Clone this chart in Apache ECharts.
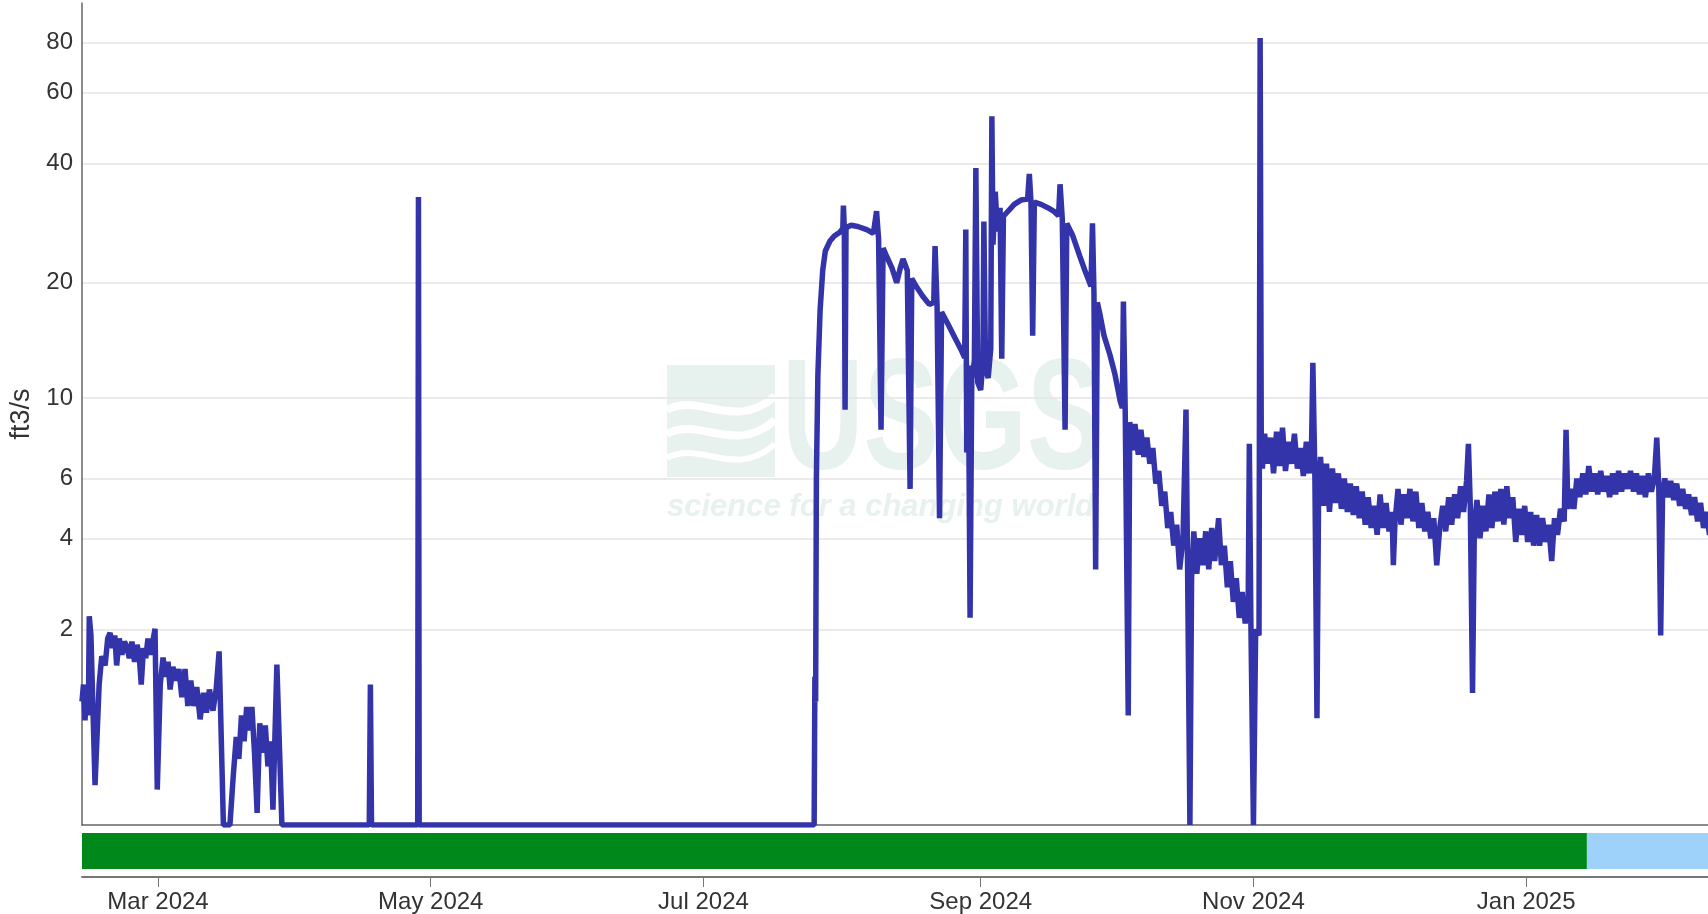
<!DOCTYPE html>
<html>
<head>
<meta charset="utf-8">
<title>Discharge, ft3/s</title>
<script src="https://cdn.jsdelivr.net/npm/echarts@6/dist/echarts.min.js"></script>
<style>
    html, body { margin: 0; padding: 0; background: #fff; }
    #chart { width: 1708px; height: 914px; }
</style>
</head>
<body>
<div id="chart"></div>
<script>
// discharge readings, ft3/s   [time, value]
var winterFlow = [
    ['2024-02-13 00:00', 1.0], ['2024-02-13 08:00', 1.2], ['2024-02-13 16:00', 0.8], ['2024-02-14 02:00', 1.1],
    ['2024-02-14 10:00', 0.85], ['2024-02-14 15:00', 2.23], ['2024-02-15 00:00', 1.9], ['2024-02-15 22:00', 0.25],
    ['2024-02-16 20:00', 1.2], ['2024-02-17 10:00', 1.58], ['2024-02-18 04:00', 1.45], ['2024-02-18 18:00', 1.85],
    ['2024-02-19 07:00', 1.94], ['2024-02-19 20:00', 1.7], ['2024-02-20 08:00', 1.9], ['2024-02-20 18:00', 1.45],
    ['2024-02-21 08:00', 1.85], ['2024-02-21 22:00', 1.6], ['2024-02-22 12:00', 1.8], ['2024-02-23 00:00', 1.73],
    ['2024-02-23 14:00', 1.55], ['2024-02-24 04:00', 1.8], ['2024-02-24 18:00', 1.5], ['2024-02-25 08:00', 1.75],
    ['2024-02-25 20:00', 1.55], ['2024-02-26 06:00', 1.2], ['2024-02-26 18:00', 1.7], ['2024-02-27 06:00', 1.55],
    ['2024-02-27 18:00', 1.85], ['2024-02-28 08:00', 1.6], ['2024-02-28 20:00', 1.8], ['2024-02-29 08:00', 2.01],
    ['2024-02-29 20:00', 0.22], ['2024-03-01 12:00', 1.2], ['2024-03-02 03:00', 1.56], ['2024-03-02 16:00', 1.3],
    ['2024-03-03 06:00', 1.5], ['2024-03-03 17:00', 1.14], ['2024-03-04 08:00', 1.43], ['2024-03-05 00:00', 1.25],
    ['2024-03-05 16:00', 1.4], ['2024-03-06 08:00', 1.05], ['2024-03-07 01:00', 1.4], ['2024-03-07 16:00', 0.95],
    ['2024-03-08 08:00', 1.25], ['2024-03-09 00:00', 0.95], ['2024-03-09 16:00', 1.17], ['2024-03-10 10:00', 0.81],
    ['2024-03-11 04:00', 1.1], ['2024-03-11 20:00', 0.88], ['2024-03-12 12:00', 1.14], ['2024-03-13 07:00', 0.9],
    ['2024-03-14 00:00', 1.14], ['2024-03-14 16:00', 1.65], ['2024-03-15 15:00', 0], ['2024-03-17 02:00', 0],
    ['2024-03-17 19:00', 0.3], ['2024-03-18 12:00', 0.64], ['2024-03-19 02:00', 0.45], ['2024-03-19 16:00', 0.85],
    ['2024-03-20 06:00', 0.6], ['2024-03-20 20:00', 0.94], ['2024-03-21 10:00', 0.7], ['2024-03-22 00:00', 0.94],
    ['2024-03-22 14:00', 0.5], ['2024-03-23 04:00', 0.07], ['2024-03-23 18:00', 0.77], ['2024-03-24 10:00', 0.5],
    ['2024-03-25 00:00', 0.75], ['2024-03-25 14:00', 0.39], ['2024-03-26 04:00', 0.6], ['2024-03-26 17:00', 0.09],
    ['2024-03-27 14:00', 1.46], ['2024-03-28 17:00', 0]
];

var dryFlow = [
    ['2024-04-17 06:00', 0], ['2024-04-17 12:00', 1.2], ['2024-04-17 18:00', 0],
    ['2024-04-28 02:00', 0], ['2024-04-28 06:00', 33], ['2024-04-28 10:00', 0],
    ['2024-07-25 18:00', 0]
];

var summerFlow = [
    ['2024-07-25 22:00', 1.3], ['2024-07-26 02:00', 1.0], ['2024-07-26 06:00', 6], ['2024-07-26 14:00', 11.5],
    ['2024-07-27 02:00', 17], ['2024-07-27 16:00', 21.5], ['2024-07-28 06:00', 24.1], ['2024-07-29 06:00', 25.5],
    ['2024-07-30 06:00', 26.3], ['2024-07-31 12:00', 26.9], ['2024-08-01 04:00', 27.5], ['2024-08-01 07:00', 31.4],
    ['2024-08-01 12:00', 27.5], ['2024-08-01 16:00', 9.3], ['2024-08-01 21:00', 27.6], ['2024-08-03 00:00', 28],
    ['2024-08-04 12:00', 27.8], ['2024-08-06 12:00', 27.3], ['2024-08-08 00:00', 26.7], ['2024-08-08 17:00', 30.4],
    ['2024-08-09 04:00', 25.8], ['2024-08-09 17:00', 8.2], ['2024-08-10 04:00', 24.5], ['2024-08-11 00:00', 23.3],
    ['2024-08-12 04:00', 21.8], ['2024-08-13 05:00', 20], ['2024-08-14 00:00', 21.8], ['2024-08-14 15:00', 23],
    ['2024-08-15 14:00', 21.5], ['2024-08-16 05:00', 5.6], ['2024-08-16 14:00', 20.5], ['2024-08-17 16:00', 19.5],
    ['2024-08-19 00:00', 18.5], ['2024-08-20 12:00', 17.6], ['2024-08-21 12:00', 17.8], ['2024-08-21 19:00', 24.8],
    ['2024-08-22 06:00', 17.3], ['2024-08-22 19:00', 4.6], ['2024-08-23 06:00', 16.8], ['2024-08-24 12:00', 15.8],
    ['2024-08-26 00:00', 14.6], ['2024-08-27 12:00', 13.5], ['2024-08-28 10:00', 12.8], ['2024-08-28 16:00', 27.3],
    ['2024-08-28 21:00', 7.1], ['2024-08-29 06:00', 12.2], ['2024-08-29 15:00', 2.2], ['2024-08-30 00:00', 11.2],
    ['2024-08-30 14:00', 12.5], ['2024-08-30 22:00', 39], ['2024-08-31 08:00', 11], ['2024-09-01 00:00', 10.5],
    ['2024-09-01 12:00', 12.5], ['2024-09-01 17:00', 28.6], ['2024-09-02 02:00', 12], ['2024-09-02 16:00', 11.3],
    ['2024-09-03 06:00', 13.5], ['2024-09-03 12:00', 52.5], ['2024-09-03 18:00', 25], ['2024-09-04 06:00', 34],
    ['2024-09-04 18:00', 27], ['2024-09-05 08:00', 31], ['2024-09-05 17:00', 12.7], ['2024-09-06 02:00', 29.5],
    ['2024-09-07 06:00', 30.5], ['2024-09-08 12:00', 31.6], ['2024-09-10 00:00', 32.4], ['2024-09-11 12:00', 32.6],
    ['2024-09-11 21:00', 37.7], ['2024-09-12 06:00', 32], ['2024-09-12 15:00', 14.6], ['2024-09-13 00:00', 32],
    ['2024-09-14 12:00', 31.6], ['2024-09-16 00:00', 31], ['2024-09-17 07:00', 30.4], ['2024-09-18 10:00', 29.6],
    ['2024-09-18 18:00', 35.5], ['2024-09-19 06:00', 29], ['2024-09-19 21:00', 8.2], ['2024-09-20 06:00', 28.3],
    ['2024-09-21 12:00', 26.5], ['2024-09-23 05:00', 23.3], ['2024-09-24 12:00', 21.2], ['2024-09-25 16:00', 19.6],
    ['2024-09-26 00:00', 28.3], ['2024-09-26 08:00', 18.8], ['2024-09-26 17:00', 3.2], ['2024-09-27 02:00', 17.8],
    ['2024-09-27 17:00', 16.5], ['2024-09-28 14:00', 14.6], ['2024-09-29 22:00', 13], ['2024-10-01 00:00', 11.6],
    ['2024-10-02 05:00', 9.8], ['2024-10-02 16:00', 9.4], ['2024-10-02 22:00', 17.9], ['2024-10-03 08:00', 9],
    ['2024-10-04 00:00', 0.85], ['2024-10-04 08:00', 8.6]
];

var fallFlow = [
    ['2024-10-05 00:00', 7.2], ['2024-10-05 12:00', 8.5], ['2024-10-06 06:00', 7], ['2024-10-06 20:00', 8.2],
    ['2024-10-07 12:00', 6.9], ['2024-10-08 04:00', 7.8], ['2024-10-08 20:00', 6.6], ['2024-10-09 12:00', 7.3],
    ['2024-10-10 04:00', 5.8], ['2024-10-10 20:00', 6.3], ['2024-10-11 12:00', 5.0], ['2024-10-12 04:00', 5.5],
    ['2024-10-12 20:00', 4.3], ['2024-10-13 12:00', 4.8], ['2024-10-14 04:00', 3.8], ['2024-10-14 20:00', 4.4],
    ['2024-10-15 12:00', 3.2], ['2024-10-16 06:00', 4.0], ['2024-10-16 22:00', 9.3], ['2024-10-17 06:00', 3.5],
    ['2024-10-17 19:00', 0], ['2024-10-18 04:00', 3.0], ['2024-10-18 16:00', 4.2], ['2024-10-19 08:00', 3.1],
    ['2024-10-20 00:00', 4.0], ['2024-10-20 16:00', 3.3], ['2024-10-21 08:00', 4.2], ['2024-10-22 00:00', 3.2],
    ['2024-10-22 16:00', 4.3], ['2024-10-23 08:00', 3.4], ['2024-10-24 05:00', 4.6], ['2024-10-24 20:00', 3.3],
    ['2024-10-25 12:00', 3.8], ['2024-10-26 04:00', 2.8], ['2024-10-26 20:00', 3.4], ['2024-10-27 12:00', 2.5],
    ['2024-10-28 04:00', 3.0], ['2024-10-28 20:00', 2.2], ['2024-10-29 12:00', 2.7], ['2024-10-30 04:00', 2.1],
    ['2024-10-30 20:00', 2.5], ['2024-10-31 02:00', 7.5], ['2024-10-31 10:00', 2.2], ['2024-11-01 00:00', 0],
    ['2024-11-01 12:00', 2.0], ['2024-11-02 06:00', 1.9], ['2024-11-02 12:00', 82], ['2024-11-02 18:00', 7.8],
    ['2024-11-03 00:00', 6.4], ['2024-11-03 12:00', 8.0], ['2024-11-04 04:00', 6.6], ['2024-11-04 20:00', 7.8],
    ['2024-11-05 12:00', 6.2], ['2024-11-06 04:00', 8.1], ['2024-11-06 20:00', 6.5], ['2024-11-07 12:00', 8.3],
    ['2024-11-08 04:00', 6.3], ['2024-11-08 20:00', 7.6], ['2024-11-09 12:00', 6.6], ['2024-11-10 04:00', 8.0],
    ['2024-11-10 20:00', 6.4], ['2024-11-11 12:00', 7.3], ['2024-11-12 04:00', 6.1], ['2024-11-12 20:00', 7.6],
    ['2024-11-13 12:00', 6.2], ['2024-11-14 00:00', 7.5], ['2024-11-14 07:00', 12.4], ['2024-11-14 18:00', 6.0],
    ['2024-11-15 05:00', 0.82], ['2024-11-15 14:00', 5.8]
];

var winterFlow2 = [
    ['2024-11-16 00:00', 6.9], ['2024-11-16 16:00', 5.0], ['2024-11-17 08:00', 6.6], ['2024-11-18 00:00', 4.8],
    ['2024-11-18 16:00', 6.4], ['2024-11-19 08:00', 5.1], ['2024-11-20 00:00', 6.2], ['2024-11-20 16:00', 4.9],
    ['2024-11-21 08:00', 6.0], ['2024-11-22 00:00', 4.8], ['2024-11-22 16:00', 5.8], ['2024-11-23 08:00', 4.7],
    ['2024-11-24 00:00', 5.7], ['2024-11-24 16:00', 4.6], ['2024-11-25 08:00', 5.5], ['2024-11-26 00:00', 4.4],
    ['2024-11-26 16:00', 5.3], ['2024-11-27 08:00', 4.3], ['2024-11-28 00:00', 5.0], ['2024-11-28 16:00', 4.1],
    ['2024-11-29 08:00', 5.4], ['2024-11-30 00:00', 4.3], ['2024-11-30 16:00', 5.1], ['2024-12-01 08:00', 4.2],
    ['2024-12-02 00:00', 4.8], ['2024-12-02 07:00', 3.3], ['2024-12-02 16:00', 4.5], ['2024-12-03 08:00', 5.6],
    ['2024-12-04 00:00', 4.4], ['2024-12-04 16:00', 5.4], ['2024-12-05 08:00', 4.6], ['2024-12-06 00:00', 5.6],
    ['2024-12-06 16:00', 4.5], ['2024-12-07 08:00', 5.5], ['2024-12-08 00:00', 4.3], ['2024-12-08 16:00', 5.1],
    ['2024-12-09 08:00', 4.2], ['2024-12-10 00:00', 4.8], ['2024-12-10 16:00', 4.0], ['2024-12-11 08:00', 4.6],
    ['2024-12-12 00:00', 3.3], ['2024-12-12 16:00', 4.3], ['2024-12-13 08:00', 5.0], ['2024-12-14 00:00', 4.2],
    ['2024-12-14 16:00', 5.3], ['2024-12-15 08:00', 4.4], ['2024-12-16 00:00', 5.4], ['2024-12-16 16:00', 4.6],
    ['2024-12-17 08:00', 5.7], ['2024-12-18 00:00', 4.8], ['2024-12-18 16:00', 5.9], ['2024-12-19 02:00', 7.5],
    ['2024-12-19 12:00', 5.0], ['2024-12-20 00:00', 1.1], ['2024-12-20 10:00', 4.4], ['2024-12-21 00:00', 5.2],
    ['2024-12-21 16:00', 4.0], ['2024-12-22 08:00', 5.0], ['2024-12-23 00:00', 4.2], ['2024-12-23 16:00', 5.4],
    ['2024-12-24 08:00', 4.3], ['2024-12-25 00:00', 5.5], ['2024-12-25 16:00', 4.5], ['2024-12-26 08:00', 5.6],
    ['2024-12-27 00:00', 4.4], ['2024-12-27 16:00', 5.7], ['2024-12-28 08:00', 4.6], ['2024-12-29 00:00', 5.3],
    ['2024-12-29 16:00', 3.9], ['2024-12-30 08:00', 4.9], ['2024-12-31 00:00', 4.1], ['2024-12-31 16:00', 5.0],
    ['2025-01-01 08:00', 3.9], ['2025-01-02 00:00', 4.8], ['2025-01-02 16:00', 3.8], ['2025-01-03 08:00', 4.7],
    ['2025-01-04 00:00', 3.8], ['2025-01-04 16:00', 4.6], ['2025-01-05 08:00', 3.9], ['2025-01-06 00:00', 4.4],
    ['2025-01-06 17:00', 3.4], ['2025-01-07 08:00', 4.6], ['2025-01-08 00:00', 4.1], ['2025-01-08 16:00', 4.9],
    ['2025-01-09 12:00', 4.5], ['2025-01-09 22:00', 8.2], ['2025-01-10 08:00', 4.9], ['2025-01-11 00:00', 5.6],
    ['2025-01-11 16:00', 4.9], ['2025-01-12 08:00', 6.0], ['2025-01-13 00:00', 5.3], ['2025-01-13 16:00', 6.2],
    ['2025-01-14 08:00', 5.4], ['2025-01-15 00:00', 6.5], ['2025-01-15 16:00', 5.5], ['2025-01-16 08:00', 6.2],
    ['2025-01-17 00:00', 5.4], ['2025-01-17 16:00', 6.3], ['2025-01-18 08:00', 5.5], ['2025-01-19 00:00', 6.1],
    ['2025-01-19 16:00', 5.3], ['2025-01-20 08:00', 6.2], ['2025-01-21 00:00', 5.4], ['2025-01-21 16:00', 6.3],
    ['2025-01-22 08:00', 5.5], ['2025-01-23 00:00', 6.2], ['2025-01-23 16:00', 5.6], ['2025-01-24 08:00', 6.3],
    ['2025-01-25 00:00', 5.5], ['2025-01-25 16:00', 6.2], ['2025-01-26 08:00', 5.4], ['2025-01-27 00:00', 6.1],
    ['2025-01-27 16:00', 5.3], ['2025-01-28 08:00', 6.2], ['2025-01-29 00:00', 5.5], ['2025-01-29 16:00', 6.0],
    ['2025-01-30 05:00', 7.8], ['2025-01-30 16:00', 5.6], ['2025-01-31 02:00', 1.9], ['2025-01-31 12:00', 5.4],
    ['2025-02-01 00:00', 6.0], ['2025-02-01 16:00', 5.3], ['2025-02-02 08:00', 5.9], ['2025-02-03 00:00', 5.2],
    ['2025-02-03 16:00', 5.8], ['2025-02-04 08:00', 5.0], ['2025-02-05 00:00', 5.6], ['2025-02-05 16:00', 4.9],
    ['2025-02-06 08:00', 5.4], ['2025-02-07 00:00', 4.7], ['2025-02-07 16:00', 5.3], ['2025-02-08 08:00', 4.5],
    ['2025-02-09 00:00', 5.1], ['2025-02-09 16:00', 4.3], ['2025-02-10 08:00', 4.8], ['2025-02-11 00:00', 4.1],
    ['2025-02-11 12:00', 4.5]
];

// axis ticks
var yTicks = [2, 4, 6, 10, 20, 40, 60, 80];
var monthTicks = ['2024-03-01 00:00', '2024-05-01 00:00', '2024-07-01 00:00', '2024-09-01 00:00', '2024-11-01 00:00', '2025-01-01 00:00'];
var xStart = '2024-02-13 00:00';
var xEnd = '2025-02-10 16:00';

// data approval status bar  [from, to, status]
var approvalPeriods = [
    ['2024-02-13 00:00', '2025-01-14 14:00', 'Approved'],
    ['2025-01-14 14:00', '2025-02-10 16:00', 'Provisional']
];
var statusColors = { Approved: '#00891a', Provisional: '#9fd2fb' };

var fontFamily = "'Liberation Sans', Arial, sans-serif";
var monthNames = ['Jan', 'Feb', 'Mar', 'Apr', 'May', 'Jun', 'Jul', 'Aug', 'Sep', 'Oct', 'Nov', 'Dec'];
var wmColor = '#e7f1ee';

// y scale is log10(q + 1), so zero flow sits on the floor
function toAxis(q) {
    return Math.log10(q + 1);
}
// 'YYYY-MM-DD HH:mm' -> local timestamp
function toTime(s) {
    var p = s.split(/[- :]/).map(Number);
    return new Date(p[0], p[1] - 1, p[2], p[3] || 0, p[4] || 0).getTime();
}

var allFlow = winterFlow.concat(dryFlow, summerFlow, fallFlow, winterFlow2);
var seriesData = allFlow.map(function (d) {
    return [toTime(d[0]), toAxis(d[1])];
});
var yTickPos = yTicks.map(toAxis);
var monthPos = monthTicks.map(toTime);

var myChart = echarts.init(document.getElementById('chart'));

var option = {
    animation: false,
    backgroundColor: '#fff',
    grid: [
        { left: 82, right: 0, top: 3, bottom: 89, outerBoundsMode: 'none' },
        { left: 82, right: 0, top: 831, height: 46, outerBoundsMode: 'none' }
    ],
    xAxis: [{
        gridIndex: 0,
        type: 'value',
        min: toTime(xStart),
        max: toTime(xEnd),
        axisLine: { show: true, onZero: false, lineStyle: { color: '#666', width: 1.5 } },
        axisTick: { show: false },
        axisLabel: { show: false },
        splitLine: { show: false }
    }, {
        gridIndex: 1,
        type: 'value',
        min: toTime(xStart),
        max: toTime(xEnd),
        axisLine: { show: true, onZero: false, lineStyle: { color: '#777', width: 2 } },
        axisTick: { show: true, customValues: monthPos, length: 10, lineStyle: { color: '#777', width: 1 } },
        axisLabel: {
            customValues: monthPos,
            margin: 13,
            fontSize: 24,
            color: '#333',
            fontFamily: fontFamily,
            formatter: function (v) {
                var d = new Date(v);
                return monthNames[d.getMonth()] + ' ' + d.getFullYear();
            }
        },
        splitLine: { show: false }
    }],
    yAxis: [{
        gridIndex: 0,
        type: 'value',
        min: 0,
        max: toAxis(100),
        name: 'ft3/s',
        nameLocation: 'middle',
        nameRotate: 90,
        nameGap: 41,
        nameTextStyle: { fontSize: 27, color: '#333', fontFamily: fontFamily },
        axisLine: { show: true, lineStyle: { color: '#666', width: 1.5 } },
        axisTick: { show: false, customValues: yTickPos },
        axisLabel: {
            customValues: yTickPos,
            margin: 9,
            fontSize: 24,
            color: '#333',
            fontFamily: fontFamily,
            formatter: function (v) {
                return Math.round(Math.pow(10, v) - 1);
            }
        },
        splitLine: { show: true, lineStyle: { color: '#e4e4e4', width: 1.5 } }
    }, {
        gridIndex: 1,
        type: 'value',
        min: 0,
        max: 1,
        show: false
    }],
    graphic: [
        // faint USGS watermark behind the plot
        { type: 'rect', z: -1, shape: { x: 667, y: 365, width: 108, height: 112 }, style: { fill: wmColor } },
        { type: 'bezierCurve', z: -1, shape: { x1: 667, y1: 410, cpx1: 700, cpy1: 392, cpx2: 735, cpy2: 432, x2: 775, y2: 396 }, style: { stroke: '#fff', lineWidth: 8, fill: null } },
        { type: 'bezierCurve', z: -1, shape: { x1: 667, y1: 434, cpx1: 700, cpy1: 416, cpx2: 735, cpy2: 456, x2: 775, y2: 420 }, style: { stroke: '#fff', lineWidth: 8, fill: null } },
        { type: 'bezierCurve', z: -1, shape: { x1: 667, y1: 458, cpx1: 700, cpy1: 440, cpx2: 735, cpy2: 480, x2: 775, y2: 444 }, style: { stroke: '#fff', lineWidth: 6, fill: null } },
        { type: 'text', z: -1, x: 782, y: 424, scaleX: 0.715, style: { text: 'USGS', fill: wmColor, font: 'bold 158px ' + fontFamily, textVerticalAlign: 'middle' } },
        { type: 'text', z: -1, x: 667, y: 507, style: { text: 'science for a changing world', fill: wmColor, font: 'italic bold 31px ' + fontFamily, textVerticalAlign: 'middle' } }
    ],
    series: [{
        name: 'Discharge',
        type: 'line',
        xAxisIndex: 0,
        yAxisIndex: 0,
        data: seriesData,
        showSymbol: false,
        symbol: 'none',
        lineStyle: { color: '#3333aa', width: 5.5, join: 'bevel', cap: 'butt' },
        z: 3
    }, {
        name: 'Approval',
        type: 'custom',
        xAxisIndex: 1,
        yAxisIndex: 1,
        data: approvalPeriods.map(function (p) {
            return { value: [toTime(p[0]), toTime(p[1])], itemStyle: { color: statusColors[p[2]] } };
        }),
        encode: { x: [0, 1] },
        renderItem: function (params, api) {
            var a = api.coord([api.value(0), 0]);
            var b = api.coord([api.value(1), 0]);
            var cs = params.coordSys;
            return {
                type: 'rect',
                shape: { x: a[0], y: cs.y + 2, width: b[0] - a[0], height: cs.height - 10 },
                style: { fill: api.visual('color') }
            };
        }
    }]
};

myChart.setOption(option);
</script>
</body>
</html>
